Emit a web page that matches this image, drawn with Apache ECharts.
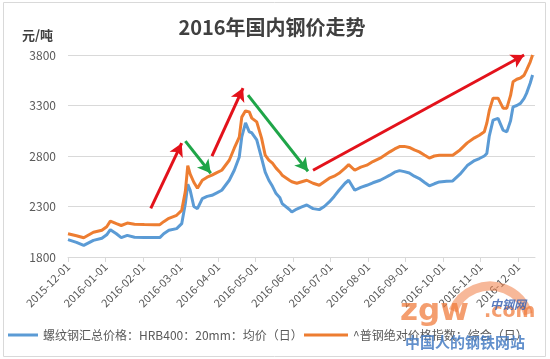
<!DOCTYPE html>
<html>
<head>
<meta charset="utf-8">
<script src="https://cdn.jsdelivr.net/npm/echarts@6/dist/echarts.min.js"></script>
<style>html,body{margin:0;padding:0;background:#fff}#c{width:550px;height:359px}</style>
</head>
<body>
<div id="c"></div>
<script>
const monthLabels = ['2015-12-01','2016-01-01','2016-02-01','2016-03-01','2016-04-01','2016-05-01','2016-06-01','2016-07-01','2016-08-01','2016-09-01','2016-10-01','2016-11-01','2016-12-01'];
const yTicks = [1800, 2300, 2800, 3300, 3800];
const dates = ['2015-12-01','2015-12-08','2015-12-14','2015-12-22','2015-12-29','2016-01-02','2016-01-05','2016-01-10','2016-01-14','2016-01-19','2016-01-25','2016-02-02','2016-02-10','2016-02-14','2016-02-17','2016-02-21','2016-02-27','2016-03-02','2016-03-05','2016-03-07','2016-03-09','2016-03-12','2016-03-15','2016-03-19','2016-03-23','2016-03-27','2016-03-31','2016-04-04','2016-04-10','2016-04-14','2016-04-18','2016-04-20','2016-04-23','2016-04-26','2016-04-28','2016-05-02','2016-05-06','2016-05-09','2016-05-12','2016-05-15','2016-05-18','2016-05-21','2016-05-23','2016-05-29','2016-05-31','2016-06-04','2016-06-08','2016-06-12','2016-06-17','2016-06-22','2016-06-26','2016-06-30','2016-07-04','2016-07-08','2016-07-13','2016-07-16','2016-07-21','2016-07-26','2016-07-31','2016-08-05','2016-08-11','2016-08-15','2016-08-19','2016-08-23','2016-08-27','2016-08-31','2016-09-04','2016-09-08','2016-09-12','2016-09-16','2016-09-20','2016-09-24','2016-09-28','2016-10-04','2016-10-09','2016-10-15','2016-10-21','2016-10-27','2016-10-31','2016-11-04','2016-11-06','2016-11-08','2016-11-11','2016-11-15','2016-11-19','2016-11-22','2016-11-25','2016-11-27','2016-11-30','2016-12-03','2016-12-06','2016-12-08','2016-12-11','2016-12-13'];
const rebarPrice = [1972,1945,1915,1965,1985,2020,2070,2030,1992,2014,1995,1992,1992,1992,2030,2064,2081,2130,2330,2520,2460,2300,2279,2378,2400,2411,2435,2461,2560,2659,2791,2990,3128,3039,3030,2960,2780,2640,2560,2500,2428,2390,2329,2270,2246,2275,2296,2315,2279,2269,2300,2345,2400,2461,2530,2560,2461,2490,2510,2535,2560,2585,2610,2640,2655,2645,2632,2600,2577,2540,2505,2525,2543,2550,2553,2620,2705,2755,2775,2800,2825,3000,3155,3172,3056,3039,3150,3287,3300,3321,3370,3420,3520,3602];
const steelIndex = [2030,2010,1990,2045,2065,2100,2155,2130,2112,2136,2125,2122,2120,2120,2150,2183,2213,2262,2450,2705,2620,2540,2481,2560,2590,2610,2635,2659,2758,2877,2987,3185,3247,3237,3175,3138,2977,2808,2760,2729,2680,2642,2610,2560,2545,2530,2545,2560,2530,2510,2545,2580,2600,2629,2680,2715,2659,2690,2709,2745,2778,2810,2841,2870,2893,2895,2885,2860,2841,2810,2780,2800,2808,2808,2808,2860,2930,2980,3006,3040,3125,3250,3373,3373,3274,3274,3400,3535,3560,3572,3600,3651,3730,3800];
const axisEndDate = '2016-12-15';
// arrows: [fromDate, fromValue, toDate, toValue]
const redArrows = [['2016-02-07',2282,'2016-03-02',2927],['2016-03-27',2798,'2016-04-21',3473],['2016-06-17',2659,'2016-12-06',3800]];
const greenArrows = [['2016-03-05',2947,'2016-03-26',2629],['2016-04-25',3403,'2016-06-13',2649]];
const seriesNames = ['螺纹钢汇总价格：HRB400：20mm：均价（日）','^普钢绝对价格指数：综合（日）'];

function monthPos(s){
  const [y,m,d] = s.split('-').map(Number);
  const idx = (y-2015)*12 + (m-1) - 11;
  const dim = new Date(y, m, 0).getDate();
  return idx + (d-1)/dim;
}
const F = '"Noto Sans CJK SC","Microsoft YaHei",sans-serif';
function arrowData(list, color){
  return list.map(a => [{coord:[monthPos(a[0]), a[1]], lineStyle:{color:color}}, {coord:[monthPos(a[2]), a[3]], lineStyle:{color:color}}]);
}
const chart = echarts.init(document.getElementById('c'));
chart.setOption({
  animation:false,
  textStyle:{fontFamily:F},
  title:{text:'2016年国内钢价走势', left:267, top:12, textAlign:'center', textStyle:{fontSize:20, fontWeight:'bold', color:'#404040', fontFamily:F}},
  graphic:[
    {type:'rect', shape:{x:3.5,y:2.5,width:542,height:354}, style:{fill:'none', stroke:'#d9d9d9', lineWidth:1}, z:-1},
    {type:'text', left:22, top:29, style:{text:'元/吨', font:'bold 13px '+F, fill:'#404040'}},
    {type:'arc', shape:{cx:490, cy:326, r:40, startAngle:-2.75, endAngle:-0.3}, style:{stroke:'rgba(240,125,70,0.55)', lineWidth:9, fill:null}, z:10},
    {type:'text', left:400, top:296, style:{text:'zgw', font:'bold 31px "DejaVu Sans",sans-serif', fill:'rgba(240,120,55,0.72)'}, z:10},
    {type:'text', left:484, top:303, style:{text:'.com', font:'bold 19px "DejaVu Sans",sans-serif', fill:'rgba(240,120,55,0.72)'}, z:10},
    {type:'text', left:490, top:298, style:{text:'中钢网', font:'italic bold 12px '+F, fill:'rgba(60,100,180,0.85)'}, z:11},
    {type:'text', left:405, top:335, style:{text:'中国人的钢铁网站', font:'bold 15px '+F, fill:'rgba(70,125,195,0.85)'}, z:10}
  ],
  legend:[
    {data:[seriesNames[0]], left:3, top:324, itemWidth:30, itemHeight:3, itemGap:4, icon:'rect', textStyle:{fontSize:12, color:'#595959', fontFamily:F}},
    {data:[seriesNames[1]], left:299, top:324, itemWidth:44, itemHeight:3, itemGap:18, icon:'rect', textStyle:{fontSize:12, color:'#595959', fontFamily:F}}
  ],
  grid:{left:68, right:15, top:55, bottom:102, containLabel:false},
  xAxis:{
    type:'value', min:0, max:monthPos(axisEndDate),
    axisLine:{show:true, lineStyle:{color:'#d9d9d9'}},
    axisTick:{show:true, length:5, lineStyle:{color:'#d9d9d9'}, customValues:monthLabels.map((_, i) => i)},
    axisLabel:{rotate:45, fontSize:11, color:'#595959', margin:8, customValues:monthLabels.map((_, i) => i), formatter:v => monthLabels[Math.round(v)] || ''},
    splitLine:{show:false}
  },
  yAxis:{
    type:'value', min:yTicks[0], max:yTicks[yTicks.length-1], interval:500,
    axisLine:{show:false}, axisTick:{show:false},
    axisLabel:{fontSize:12, color:'#595959', margin:12, formatter:v => String(v)},
    splitLine:{lineStyle:{color:'#d9d9d9'}}
  },
  series:[
    {name:seriesNames[0], type:'line', showSymbol:false, symbol:'none', color:'#5b9bd5', lineStyle:{width:3, color:'#5b9bd5'},
     data:dates.map((d,i)=>[monthPos(d), rebarPrice[i]])},
    {name:seriesNames[1], type:'line', showSymbol:false, symbol:'none', color:'#ed7d31', lineStyle:{width:3, color:'#ed7d31'},
     data:dates.map((d,i)=>[monthPos(d), steelIndex[i]]),
     markLine:{silent:true, symbol:['none','arrow'], symbolSize:[11,13], label:{show:false}, lineStyle:{width:3, type:'solid'},
       emphasis:{disabled:true},
       data:arrowData(redArrows,'#e3121b').concat(arrowData(greenArrows,'#1fa548'))}
    }
  ]
});
</script>
</body>
</html>
